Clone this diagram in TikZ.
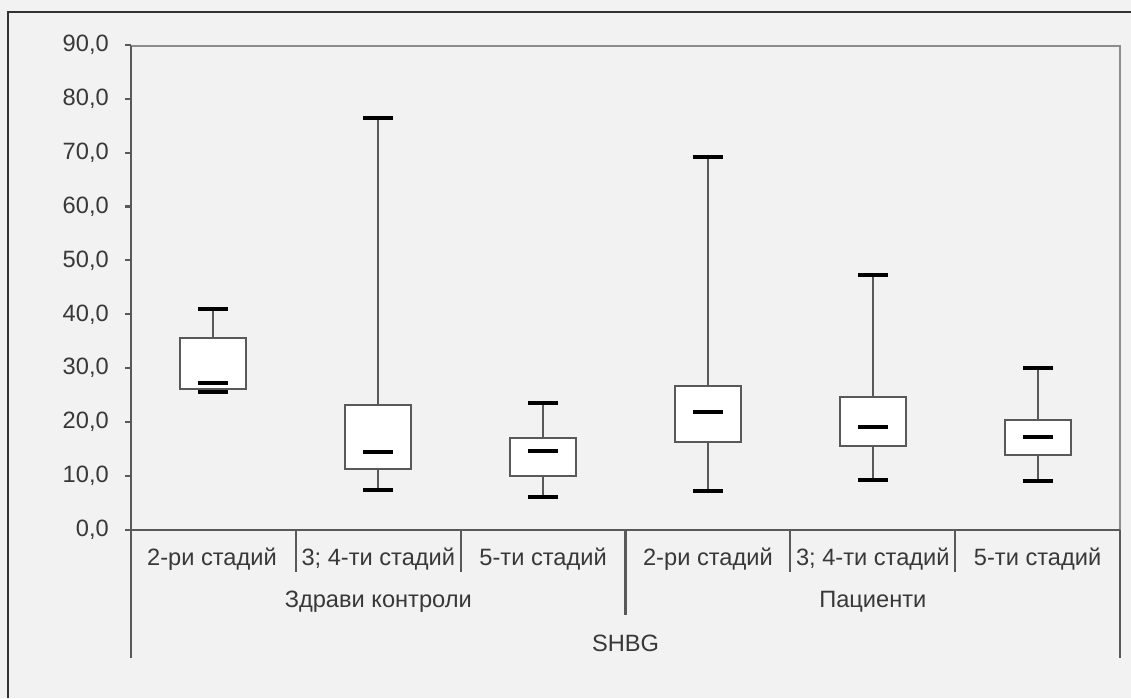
\documentclass[tikz,border=0pt]{standalone}
\usepackage{fontspec}
\setmainfont{Liberation Sans}
\usepackage{tikz}

\definecolor{bggray}{HTML}{F2F2F2}
\definecolor{axisgray}{HTML}{595959}
\definecolor{framegray}{HTML}{8C8C8C}
\definecolor{txtgray}{HTML}{383838}

\tikzset{
  axisline/.style={draw=axisgray,line width=1.5pt},
  framelin/.style={draw=framegray,line width=1.5pt},
  whisker/.style={draw=axisgray,line width=1.3pt},
  boxrect/.style={draw=axisgray,line width=1.3pt,fill=white},
  capline/.style={draw=black,line width=2.9pt},
  lbl/.style={text=txtgray,inner sep=0pt}
}

\begin{document}
\begin{tikzpicture}[x=0.025cm,y=0.025cm,font=\fontsize{16.8}{19}\selectfont]

% background and page frame
\fill[bggray] (0,0) rectangle (1131,698);
\useasboundingbox (0,0) rectangle (1131,698);
\draw[draw=black!80,line width=1.1pt] (8,0) -- (8,686) -- (1131,686);

% plot frame
\draw[framelin] (131,652) -- (1120,652) -- (1120,168);

% category separators
\foreach \k in {1,2,4,5}
{
    \draw[axisline] (131+164.83*\k,168) -- (131+164.83*\k,126);
}
\draw[axisline] (625.5,168) -- (625.5,83);
\draw[axisline] (131,652) -- (131,40);
\draw[axisline] (1120,168) -- (1120,40);
\draw[axisline] (125,168) -- (1120,168);

% value axis and boxes
\begin{scope}[shift={(0,168)},y=0.13475cm]

\foreach \v in {0,...,9}
{
    \pgfmathtruncatemacro{\lab}{10*\v}
    \draw[axisline] (125,10*\v) -- (131,10*\v);
    \node[lbl,anchor=east] (ylab\v) at (109,10*\v) {\lab,0};
}

\foreach \cx/\lo/\qa/\md/\qb/\hi in {
    213.4/25.6/26.2/27.3/35.6/41.0,
    378.3/7.4/11.3/14.5/23.2/76.4,
    543.1/6.1/10.0/14.7/17.1/23.6,
    707.9/7.2/16.3/21.9/26.7/69.2,
    872.8/9.3/15.6/19.1/24.7/47.3,
    1037.6/9.1/13.9/17.3/20.4/30.1}
{
    \draw[whisker] (\cx,\lo) -- (\cx,\hi);
    \draw[boxrect] (\cx-33,\qa) rectangle (\cx+33,\qb);
    \draw[capline] (\cx-15,\lo) -- (\cx+15,\lo);
    \draw[capline] (\cx-15,\hi) -- (\cx+15,\hi);
    \draw[capline] (\cx-15,\md) -- (\cx+15,\md);
}
\end{scope}

% category labels
\node[lbl] (cat1) at (212,139) {2-ри стадий};
\node[lbl] (cat2) at (378.3,139) {3; 4-ти стадий};
\node[lbl] (cat3) at (543.1,139) {5-ти стадий};
\node[lbl] (cat4) at (707.9,139) {2-ри стадий};
\node[lbl] (cat5) at (872.8,139) {3; 4-ти стадий};
\node[lbl] (cat6) at (1037.6,139) {5-ти стадий};

\node[lbl] (grp1) at (378.3,96) {Здрави контроли};
\node[lbl] (grp2) at (872.8,96) {Пациенти};

\node[lbl] (shbg) at (625.5,55) {SHBG};

\end{tikzpicture}
\end{document}
